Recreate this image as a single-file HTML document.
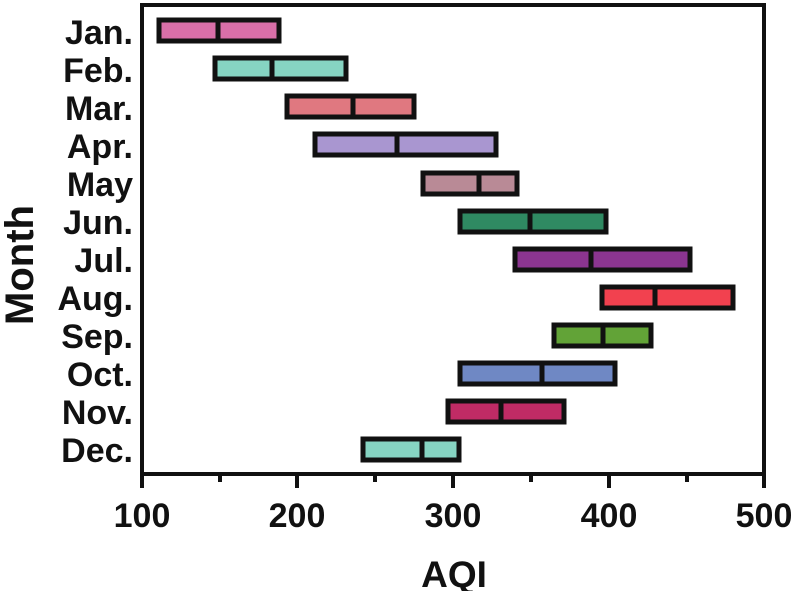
<!DOCTYPE html>
<html><head><meta charset="utf-8"><style>
html,body{margin:0;padding:0;background:#fff;}
svg{display:block;}
text{font-family:"Liberation Sans",Arial,sans-serif;font-weight:bold;fill:#111;}
</style></head><body>
<svg width="796" height="591" viewBox="0 0 796 591" xmlns="http://www.w3.org/2000/svg">
<g stroke="#111" stroke-width="4" fill="none">
<rect x="142" y="5" width="622" height="469"/>
<line x1="142" y1="474" x2="142" y2="488"/>
<line x1="297" y1="474" x2="297" y2="488"/>
<line x1="453" y1="474" x2="453" y2="488"/>
<line x1="609" y1="474" x2="609" y2="488"/>
<line x1="764" y1="474" x2="764" y2="488"/>
<line x1="220" y1="474" x2="220" y2="482"/>
<line x1="375" y1="474" x2="375" y2="482"/>
<line x1="531" y1="474" x2="531" y2="482"/>
<line x1="687" y1="474" x2="687" y2="482"/>
</g>
<g stroke="#111" stroke-width="5">
<rect x="159" y="20" width="120" height="21" fill="#d96fa8"/><line x1="218" y1="20" x2="218" y2="41"/>
<rect x="215" y="58" width="131" height="21" fill="#86d4c2"/><line x1="272" y1="58" x2="272" y2="79"/>
<rect x="287" y="96" width="127" height="21" fill="#e07880"/><line x1="353" y1="96" x2="353" y2="117"/>
<rect x="315" y="134" width="181" height="21" fill="#a996d0"/><line x1="397" y1="134" x2="397" y2="155"/>
<rect x="423" y="173" width="94" height="21" fill="#b98a96"/><line x1="479" y1="173" x2="479" y2="194"/>
<rect x="460" y="211" width="146" height="21" fill="#2f8a62"/><line x1="530" y1="211" x2="530" y2="232"/>
<rect x="515" y="249" width="175" height="21" fill="#8b3590"/><line x1="591" y1="249" x2="591" y2="270"/>
<rect x="602" y="287" width="131" height="21" fill="#f2414f"/><line x1="655" y1="287" x2="655" y2="308"/>
<rect x="554" y="325" width="97" height="21" fill="#62a337"/><line x1="603" y1="325" x2="603" y2="346"/>
<rect x="460" y="363" width="155" height="21" fill="#6f88c4"/><line x1="542" y1="363" x2="542" y2="384"/>
<rect x="448" y="401" width="116" height="21" fill="#c02b65"/><line x1="501" y1="401" x2="501" y2="422"/>
<rect x="363" y="439" width="96" height="21" fill="#86d4c2"/><line x1="422" y1="439" x2="422" y2="460"/>
</g>
<g font-size="34" text-anchor="end">
<text x="133" y="44">Jan.</text>
<text x="133" y="82">Feb.</text>
<text x="133" y="120">Mar.</text>
<text x="133" y="158">Apr.</text>
<text x="133" y="196">May</text>
<text x="133" y="234">Jun.</text>
<text x="133" y="272">Jul.</text>
<text x="133" y="310">Aug.</text>
<text x="133" y="348">Sep.</text>
<text x="133" y="386">Oct.</text>
<text x="133" y="424">Nov.</text>
<text x="133" y="462">Dec.</text>
</g>
<g font-size="34" text-anchor="middle">
<text x="142" y="527">100</text>
<text x="297" y="527">200</text>
<text x="453" y="527">300</text>
<text x="609" y="527">400</text>
<text x="764" y="527">500</text>
</g>
<text x="454" y="587" font-size="37" text-anchor="middle">AQI</text>
<text transform="translate(33,265) rotate(-90)" font-size="40" text-anchor="middle">Month</text>
</svg>
</body></html>
